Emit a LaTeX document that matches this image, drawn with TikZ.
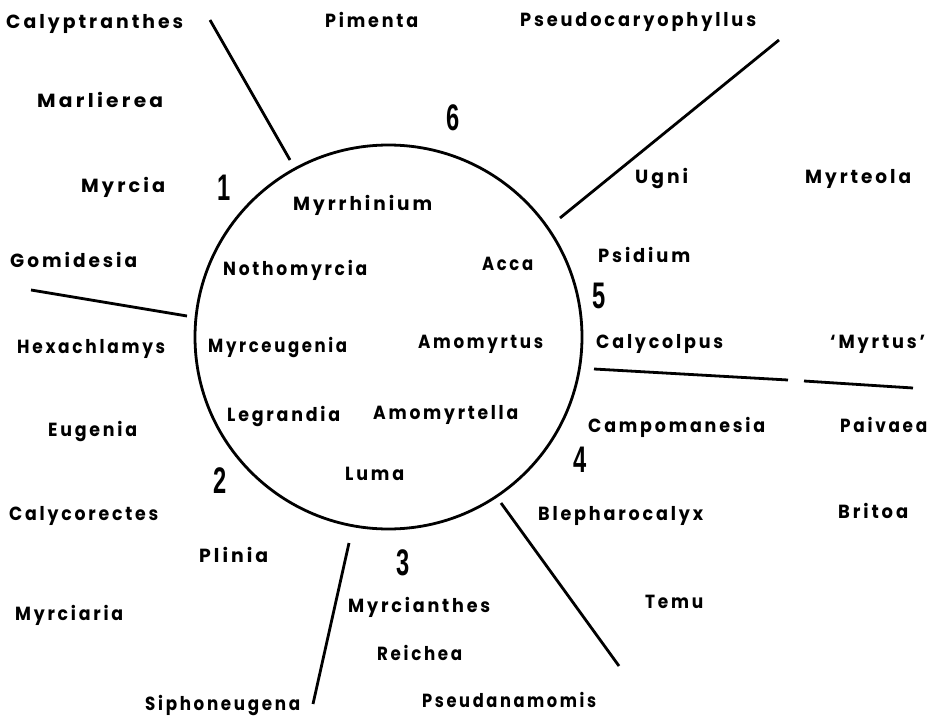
\documentclass[tikz,border=0pt]{standalone}
\usepackage{fontspec}
\usepackage{graphicx}
\setmainfont{Poppins}
\newfontfamily\labfam[LetterSpace=16]{Poppins}
\newfontfamily\numfam{Liberation Sans}
\newlength\natwid
\newcommand\fitw[2]{\settowidth\natwid{#2}\pgfmathsetmacro\fxr{#1/\natwid}\scalebox{\fxr}[1]{#2}}
\begin{document}
\begin{tikzpicture}[x=1pt,y=-1pt,
  lab/.style={font=\labfam\bfseries\fontsize{19}{21}\selectfont, inner sep=0pt, anchor=base west},
  num/.style={font=\numfam\bfseries\fontsize{37}{39}\selectfont, inner sep=0pt, xscale=0.64},
  sep/.style={line width=2.8pt}]
\useasboundingbox (0,0) rectangle (938,717);
\draw[line width=2.8pt] (388.5,337) ellipse (193.5 and 192);
% labels
\node[lab] (calyptranthes) at (6,29) {\fitw{177}{Calyptranthes}};
\node[lab] (pimenta) at (325,28) {\fitw{93}{Pimenta}};
\node[lab] (pseudocaryophyllus) at (520,27) {\fitw{236}{Pseudocaryophyllus}};
\node[lab] (marlierea) at (37,108) {\fitw{126}{Marlierea}};
\node[lab] (myrcia) at (81,192) {\fitw{84}{Myrcia}};
\node[lab] (myrrhinium) at (293,210) {\fitw{139}{Myrrhinium}};
\node[lab] (ugni) at (635,183) {\fitw{53}{Ugni}};
\node[lab] (myrteola) at (805,183) {\fitw{106}{Myrteola}};
\node[lab] (gomidesia) at (10,267) {\fitw{127}{Gomidesia}};
\node[lab] (nothomyrcia) at (223,275) {\fitw{144}{Nothomyrcia}};
\node[lab] (acca) at (482,270) {\fitw{51}{Acca}};
\node[lab] (psidium) at (598,262) {\fitw{92}{Psidium}};
\node[lab] (hexachlamys) at (17,353) {\fitw{148}{Hexachlamys}};
\node[lab] (myrceugenia) at (208,352) {\fitw{139}{Myrceugenia}};
\node[lab] (amomyrtus) at (418,348) {\fitw{125}{Amomyrtus}};
\node[lab] (calycolpus) at (596,348) {\fitw{127}{Calycolpus}};
\node[lab] (myrtus) at (830,348) {\fitw{95}{‘Myrtus’}};
\node[lab] (eugenia) at (48,436) {\fitw{89}{Eugenia}};
\node[lab] (legrandia) at (227,421) {\fitw{113}{Legrandia}};
\node[lab] (amomyrtella) at (373,419) {\fitw{145}{Amomyrtella}};
\node[lab] (campomanesia) at (588,432) {\fitw{177}{Campomanesia}};
\node[lab] (paivaea) at (840,432) {\fitw{87}{Paivaea}};
\node[lab] (luma) at (345,480) {\fitw{59}{Luma}};
\node[lab] (calycorectes) at (9,520) {\fitw{149}{Calycorectes}};
\node[lab] (blepharocalyx) at (538,520) {\fitw{165}{Blepharocalyx}};
\node[lab] (britoa) at (838,518) {\fitw{70}{Britoa}};
\node[lab] (plinia) at (199,562) {\fitw{69}{Plinia}};
\node[lab] (myrcianthes) at (348,612) {\fitw{142}{Myrcianthes}};
\node[lab] (temu) at (645,608) {\fitw{58}{Temu}};
\node[lab] (myrciaria) at (15,620) {\fitw{108}{Myrciaria}};
\node[lab] (reichea) at (377,660) {\fitw{85}{Reichea}};
\node[lab] (siphoneugena) at (145,710) {\fitw{155}{Siphoneugena}};
\node[lab] (pseudanamomis) at (422,707) {\fitw{174}{Pseudanamomis}};
% group numbers
\node[num] (n1) at (224,188) {1};
\node[num] (n2) at (220,481) {2};
\node[num] (n3) at (403,563) {3};
\node[num] (n4) at (580,460) {4};
\node[num] (n5) at (599,296) {5};
\node[num] (n6) at (453,118) {6};
% separators
\coordinate (a1) at (210,20);  \coordinate (a2) at (290,160);
\coordinate (b1) at (779,40);  \coordinate (b2) at (560,218);
\coordinate (c1) at (31,290);  \coordinate (c2) at (187,316);
\coordinate (d1) at (594,369); \coordinate (d2) at (788,380);
\coordinate (e1) at (804,381); \coordinate (e2) at (913,388);
\coordinate (f1) at (349,543); \coordinate (f2) at (313,704);
\coordinate (g1) at (501,503); \coordinate (g2) at (619,666);
\draw[sep] (a1) -- (a2);
\draw[sep] (b1) -- (b2);
\draw[sep] (c1) -- (c2);
\draw[sep] (d1) -- (d2);
\draw[sep] (e1) -- (e2);
\draw[sep] (f1) -- (f2);
\draw[sep] (g1) -- (g2);
\end{tikzpicture}
\end{document}
